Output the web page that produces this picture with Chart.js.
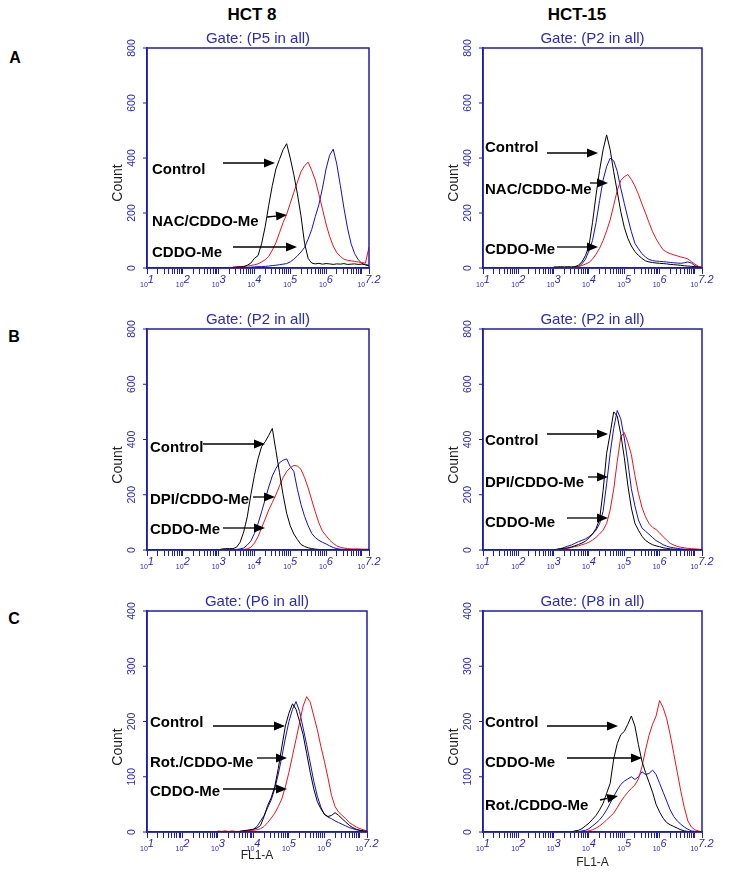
<!DOCTYPE html>
<html>
<head>
<meta charset="utf-8">
<script src="https://cdn.jsdelivr.net/npm/chart.js@4.4.0/dist/chart.umd.min.js"></script>
<style>
  body { margin: 0; background: #fff; }
  #page { position: relative; width: 729px; height: 880px; overflow: hidden; background: #fff;
          font-family: "Liberation Sans", Arial, sans-serif; }
  .hdr { position: absolute; font-weight: bold; font-size: 17px; color: #000;
         transform: translate(-50%, -50%); white-space: nowrap; }
  .let { position: absolute; font-weight: bold; font-size: 16px; color: #000;
         transform: translate(-50%, -50%); }
  canvas { position: absolute; }
</style>
</head>
<body>
<div id="page">
  <div class="hdr" style="left:252px; top:15px;">HCT 8</div>
  <div class="hdr" style="left:577px; top:15px;">HCT-15</div>
  <div class="let" style="left:15px; top:58px;">A</div>
  <div class="let" style="left:14px; top:337px;">B</div>
  <div class="let" style="left:14px; top:619px;">C</div>
</div>
<script>
// ---------- DATA ----------
// FL1-A channel positions (log10 of fluorescence)
const fl1Exponents = [3.0,3.1,3.2,3.3,3.4,3.5,3.6,3.7,3.8,3.9,
                      4.0,4.1,4.2,4.3,4.4,4.5,4.6,4.7,4.8,4.9,
                      5.0,5.1,5.2,5.3,5.4,5.5,5.6,5.7,5.8,5.9,
                      6.0,6.1,6.2,6.3,6.4,6.5,6.6,6.7,6.8,6.9,
                      7.0,7.1,7.2];
const xTickExponents = [1, 2, 3, 4, 5, 6, 7.2];
const xTickLabels = ['1', '2', '3', '4', '5', '6', '7.2'];
const yTicksAB = [0, 200, 400, 600, 800];
const yTicksC = [0, 100, 200, 300, 400];

// Panel A, HCT 8
const hct8A_control = [0,0,0,0,2,3,4,5,10,18, 35,45,88,150,228,300,360,395,430,452, 400,340,270,190,90,35,18,15,17,14, 16,15,13,15,14,16,13,14,15,13, 14,12,10];
const hct8A_nac     = [0,0,0,0,3,5,5,6,7,9, 12,15,22,30,42,65,92,128,165,195, 235,275,312,350,372,385,355,320,268,215, 160,115,80,56,42,32,28,26,24,22, 20,17,76];
const hct8A_cddo    = [0,0,0,0,0,0,0,0,2,3, 4,5,5,6,7,9,10,12,14,16, 22,32,44,58,75,105,140,187,230,290, 360,410,432,378,300,218,145,88,52,30, 17,11,8];
// Panel A, HCT-15
const hct15A_control = [4,4,5,4,5,4,5,10,22,45, 80,165,265,355,430,484,430,350,278,205, 148,108,80,60,46,35,26,22,20,18, 17,16,15,13,12,11,10,8,7,6, 5,3,2];
const hct15A_nac     = [0,0,0,0,0,2,3,5,15,32, 62,100,165,245,320,369,399,390,352,290, 235,182,132,90,70,52,40,31,27,25, 24,23,22,20,19,18,17,19,22,18, 8,4,2];
const hct15A_cddo    = [0,0,0,0,0,0,3,5,9,14, 20,32,50,72,100,135,175,228,282,318, 332,340,322,298,268,233,200,165,132,106, 85,66,58,52,48,44,40,37,33,23, 14,6,3];
// Panel B, HCT 8
const hct8B_control = [0,4,5,5,5,10,28,65,120,200, 270,330,374,392,415,440,360,280,200,133, 88,58,38,20,13,8,5,3,2,1, 0,0,0,0,0,0,0,0,0,0, 0,0,0];
const hct8B_dpi     = [0,0,0,0,0,2,4,7,18,32, 60,95,138,183,228,268,295,316,325,330, 302,285,220,165,122,88,60,45,35,28, 22,15,9,5,3,2,1,1,0,0, 0,0,0];
const hct8B_cddo    = [0,0,0,0,0,0,0,2,4,10, 25,48,80,112,145,172,200,232,262,284, 298,306,304,292,262,225,181,138,98,68, 52,36,24,15,10,7,5,4,4,4, 3,3,3];
// Panel B, HCT-15
const hct15B_control = [0,3,5,6,8,11,15,20,25,32, 44,58,78,110,215,350,422,500,485,420, 335,235,152,97,72,50,35,26,19,15, 12,8,6,4,3,2,1,1,1,1, 1,1,0];
const hct15B_dpi     = [0,2,5,9,14,18,24,30,35,40, 48,58,72,95,140,240,350,440,505,475, 405,318,222,160,109,80,68,57,45,34, 27,19,14,10,8,6,4,3,2,1, 1,1,0];
const hct15B_cddo    = [0,0,2,4,6,9,12,15,19,23, 28,36,46,58,72,96,145,220,320,410, 425,390,345,270,205,155,120,96,82,74, 62,48,36,24,18,13,10,8,6,5, 4,3,2];
// Panel C, HCT 8
const hct8C_control = [0,0,0,0,0,0,1,2,3,4, 5,7,12,28,48,62,82,115,154,192, 215,232,222,200,176,142,108,78,55,42, 32,28,30,35,30,24,18,12,8,5, 3,2,1];
const hct8C_rot     = [0,0,0,0,0,0,0,1,2,3, 5,10,20,30,44,58,78,105,136,170, 200,222,236,218,188,158,125,92,65,45, 32,27,24,20,17,14,11,8,6,4, 3,2,1];
const hct8C_cddo    = [2,1,2,1,2,1,1,2,2,3, 3,4,6,10,17,25,34,46,60,82, 108,138,168,198,228,245,235,210,185,155, 128,98,66,46,36,30,24,17,13,9, 6,4,2];
// Panel C, HCT-15
const hct15C_control = [0,0,0,0,0,0,2,3,6,11, 16,23,30,40,52,70,88,132,160,176, 182,195,210,192,158,128,108,90,72,50, 36,25,17,13,10,7,4,2,1,0, 0,0,0];
const hct15C_rot     = [0,0,0,0,0,0,0,0,2,3, 6,11,16,22,30,40,52,64,76,86, 92,96,100,95,100,109,104,106,112,104, 88,72,56,40,28,20,14,9,5,2, 1,0,0];
const hct15C_cddo    = [0,0,0,0,0,0,0,0,0,1, 2,4,7,11,16,22,28,34,44,55, 64,72,79,85,96,118,148,175,195,210, 238,225,205,176,142,108,74,44,20,9, 4,2,0];

// ---------- STYLE / LAYOUT ----------
const AXIS_BLUE = '#1e1ea8';
const TEXT_BLUE = '#2a2ab4';
const C_BLACK = '#000000';
const C_RED = '#e3141c';
const C_BLUE = '#1010c8';
const FONT = '"Liberation Sans", Arial, sans-serif';

const panels = [
  { gate: 'Gate: (P5 in all)', left: 147, top: 48, w: 222, h: 220, yMax: 800, yTicks: yTicksAB, xTitle: null,
    series: [ { label: 'Control', data: hct8A_control, color: C_BLACK },
              { label: 'NAC/CDDO-Me', data: hct8A_nac, color: C_RED },
              { label: 'CDDO-Me', data: hct8A_cddo, color: C_BLUE } ],
    notes: [ { text: 'Control', tx: 5, ty: 122, a: [76, 115, 128, 115] },
             { text: 'NAC/CDDO-Me', tx: 5, ty: 174, a: [120, 169, 140, 167] },
             { text: 'CDDO-Me', tx: 5, ty: 205, a: [86, 199, 150, 199] } ] },
  { gate: 'Gate: (P2 in all)', left: 483, top: 48, w: 219, h: 220, yMax: 800, yTicks: yTicksAB, xTitle: null,
    series: [ { label: 'Control', data: hct15A_control, color: C_BLACK },
              { label: 'CDDO-Me', data: hct15A_cddo, color: C_RED },
              { label: 'NAC/CDDO-Me', data: hct15A_nac, color: C_BLUE } ],
    notes: [ { text: 'Control', tx: 2, ty: 100, a: [64, 105, 115, 105] },
             { text: 'NAC/CDDO-Me', tx: 2, ty: 142, a: [107, 135, 125, 135] },
             { text: 'CDDO-Me', tx: 2, ty: 202, a: [74, 199, 115, 199] } ] },
  { gate: 'Gate: (P2 in all)', left: 147, top: 329, w: 222, h: 221, yMax: 800, yTicks: yTicksAB, xTitle: null,
    series: [ { label: 'Control', data: hct8B_control, color: C_BLACK },
              { label: 'CDDO-Me', data: hct8B_cddo, color: C_RED },
              { label: 'DPI/CDDO-Me', data: hct8B_dpi, color: C_BLUE } ],
    notes: [ { text: 'Control', tx: 3, ty: 119, a: [56, 115, 118, 115] },
             { text: 'DPI/CDDO-Me', tx: 3, ty: 171, a: [106, 168, 128, 168] },
             { text: 'CDDO-Me', tx: 3, ty: 201, a: [76, 199, 118, 199] } ] },
  { gate: 'Gate: (P2 in all)', left: 483, top: 329, w: 219, h: 221, yMax: 800, yTicks: yTicksAB, xTitle: null,
    series: [ { label: 'Control', data: hct15B_control, color: C_BLACK },
              { label: 'CDDO-Me', data: hct15B_cddo, color: C_RED },
              { label: 'DPI/CDDO-Me', data: hct15B_dpi, color: C_BLUE } ],
    notes: [ { text: 'Control', tx: 2, ty: 112, a: [64, 105, 125, 105] },
             { text: 'DPI/CDDO-Me', tx: 2, ty: 154, a: [105, 148, 125, 148] },
             { text: 'CDDO-Me', tx: 2, ty: 194, a: [84, 189, 125, 189] } ] },
  { gate: 'Gate: (P6 in all)', left: 147, top: 611, w: 220, h: 221, yMax: 400, yTicks: yTicksC, xTitle: 24,
    series: [ { label: 'Control', data: hct8C_control, color: C_BLACK },
              { label: 'CDDO-Me', data: hct8C_cddo, color: C_RED },
              { label: 'Rot./CDDO-Me', data: hct8C_rot, color: C_BLUE } ],
    notes: [ { text: 'Control', tx: 3, ty: 112, a: [66, 115, 138, 115] },
             { text: 'Rot./CDDO-Me', tx: 3, ty: 152, a: [110, 147, 140, 147] },
             { text: 'CDDO-Me', tx: 3, ty: 181, a: [76, 178, 140, 178] } ] },
  { gate: 'Gate: (P8 in all)', left: 483, top: 611, w: 219, h: 221, yMax: 400, yTicks: yTicksC, xTitle: 31,
    series: [ { label: 'Control', data: hct15C_control, color: C_BLACK },
              { label: 'CDDO-Me', data: hct15C_cddo, color: C_RED },
              { label: 'Rot./CDDO-Me', data: hct15C_rot, color: C_BLUE } ],
    notes: [ { text: 'Control', tx: 2, ty: 112, a: [64, 115, 135, 115] },
             { text: 'CDDO-Me', tx: 2, ty: 152, a: [84, 147, 159, 147] },
             { text: 'Rot./CDDO-Me', tx: 2, ty: 195, a: [117, 189, 135, 185] } ] }
];

// minor + major tick positions of the log axis (1..9 x 10^n)
const xTickValues = [];
for (let n = 1; n <= 7; n++) {
  for (let m = 1; m <= 9; m++) {
    const v = m * Math.pow(10, n);
    if (v <= Math.pow(10, 7.2)) xTickValues.push(v);
  }
}
xTickValues.push(Math.pow(10, 7.2));

const PADL = 60, PADT = 30, PADR = 20, PADB = 40, XAXIS_H = 10;

function drawArrow(ctx, x1, y1, x2, y2) {
  const ang = Math.atan2(y2 - y1, x2 - x1);
  const hl = 11, hw = 4.5;
  const bx = x2 - hl * Math.cos(ang), by = y2 - hl * Math.sin(ang);
  ctx.beginPath();
  ctx.moveTo(x1, y1); ctx.lineTo(bx, by);
  ctx.lineWidth = 1.3; ctx.strokeStyle = '#000'; ctx.stroke();
  ctx.beginPath();
  ctx.moveTo(x2, y2);
  ctx.lineTo(bx - hw * Math.sin(ang), by + hw * Math.cos(ang));
  ctx.lineTo(bx + hw * Math.sin(ang), by - hw * Math.cos(ang));
  ctx.closePath(); ctx.fillStyle = '#000'; ctx.fill();
}

function makeDecor(p) {
  return {
    id: 'flowDecor',
    afterDraw(chart) {
      const ctx = chart.ctx, a = chart.chartArea;
      const xs = chart.scales.x, ys = chart.scales.y;
      ctx.save();
      // frame
      ctx.strokeStyle = AXIS_BLUE; ctx.lineWidth = 1.5;
      ctx.strokeRect(a.left, a.top, a.right - a.left, a.bottom - a.top);
      // gate title
      ctx.fillStyle = TEXT_BLUE; ctx.font = '15px ' + FONT;
      ctx.textAlign = 'center'; ctx.textBaseline = 'middle';
      ctx.fillText(p.gate, (a.left + a.right) / 2, a.top - 9);
      // y tick labels (rotated)
      ctx.font = '10.5px ' + FONT;
      p.yTicks.forEach(v => {
        const y = ys.getPixelForValue(v);
        ctx.save(); ctx.translate(a.left - 15, y); ctx.rotate(-Math.PI / 2);
        ctx.textAlign = 'center'; ctx.textBaseline = 'middle';
        ctx.fillText(String(v), 0, 0);
        ctx.restore();
        ctx.beginPath(); ctx.moveTo(a.left - 4, y); ctx.lineTo(a.left, y);
        ctx.strokeStyle = AXIS_BLUE; ctx.lineWidth = 1; ctx.stroke();
      });
      // y title
      ctx.save(); ctx.translate(a.left - 29, a.bottom - 85); ctx.rotate(-Math.PI / 2);
      ctx.fillStyle = '#222'; ctx.font = '14px ' + FONT;
      ctx.textAlign = 'center'; ctx.textBaseline = 'middle';
      ctx.fillText('Count', 0, 0);
      ctx.restore();
      // x tick labels: small "10" + exponent
      ctx.fillStyle = TEXT_BLUE; ctx.textBaseline = 'alphabetic'; ctx.textAlign = 'left';
      xTickExponents.forEach((e, i) => {
        const px = xs.getPixelForValue(Math.pow(10, e));
        ctx.font = '7px ' + FONT;
        const w10 = ctx.measureText('10').width;
        ctx.font = 'italic 11px ' + FONT;
        const we = ctx.measureText(xTickLabels[i]).width;
        const x0 = px - (w10 + we) / 2;
        ctx.font = '7px ' + FONT;
        ctx.fillText('10', x0, a.bottom + 19);
        ctx.font = 'italic 11px ' + FONT;
        ctx.fillText(xTickLabels[i], x0 + w10, a.bottom + 15);
      });
      // x title
      if (p.xTitle !== null) {
        ctx.fillStyle = '#222'; ctx.font = '12px ' + FONT;
        ctx.textAlign = 'center'; ctx.textBaseline = 'middle';
        ctx.fillText('FL1-A', (a.left + a.right) / 2, a.bottom + p.xTitle);
      }
      // annotations
      p.notes.forEach(n => {
        ctx.fillStyle = '#000'; ctx.font = 'bold 15px ' + FONT;
        ctx.textAlign = 'left'; ctx.textBaseline = 'middle';
        ctx.fillText(n.text, a.left + n.tx, a.top + n.ty);
        drawArrow(ctx, a.left + n.a[0], a.top + n.a[1], a.left + n.a[2], a.top + n.a[3]);
      });
      ctx.restore();
    }
  };
}

const page = document.getElementById('page');
panels.forEach(p => {
  const cv = document.createElement('canvas');
  cv.width = p.w + PADL + PADR;
  cv.height = p.h + PADT + PADB;
  cv.style.left = (p.left - PADL) + 'px';
  cv.style.top = (p.top - PADT) + 'px';
  page.appendChild(cv);
  new Chart(cv.getContext('2d'), {
    type: 'line',
    data: {
      datasets: p.series.map(s => ({
        label: s.label,
        data: fl1Exponents.map((e, i) => ({ x: Math.pow(10, e), y: s.data[i] })),
        borderColor: s.color, borderWidth: 1, pointRadius: 0, tension: 0, fill: false
      }))
    },
    options: {
      responsive: false, animation: false, devicePixelRatio: 1,
      layout: { padding: { left: PADL, top: PADT, right: PADR, bottom: PADB - XAXIS_H } },
      plugins: { legend: { display: false }, tooltip: { enabled: false }, title: { display: false } },
      scales: {
        x: {
          type: 'logarithmic', min: 10, max: Math.pow(10, 7.2), bounds: 'data', offset: false,
          afterBuildTicks: s => { s.ticks = xTickValues.map(v => ({ value: v })); },
          afterFit: s => { s.height = XAXIS_H; },
          ticks: { display: false },
          grid: { display: true, drawOnChartArea: false, drawTicks: true, tickLength: 6, color: AXIS_BLUE, lineWidth: 1 },
          border: { display: true, color: AXIS_BLUE, width: 1.5 }
        },
        y: {
          type: 'linear', min: 0, max: p.yMax,
          afterFit: s => { s.width = 0; },
          ticks: { display: false, stepSize: p.yMax / 4 },
          grid: { display: false },
          border: { display: true, color: AXIS_BLUE, width: 1.5 }
        }
      }
    },
    plugins: [makeDecor(p)]
  });
});
</script>
</body>
</html>
